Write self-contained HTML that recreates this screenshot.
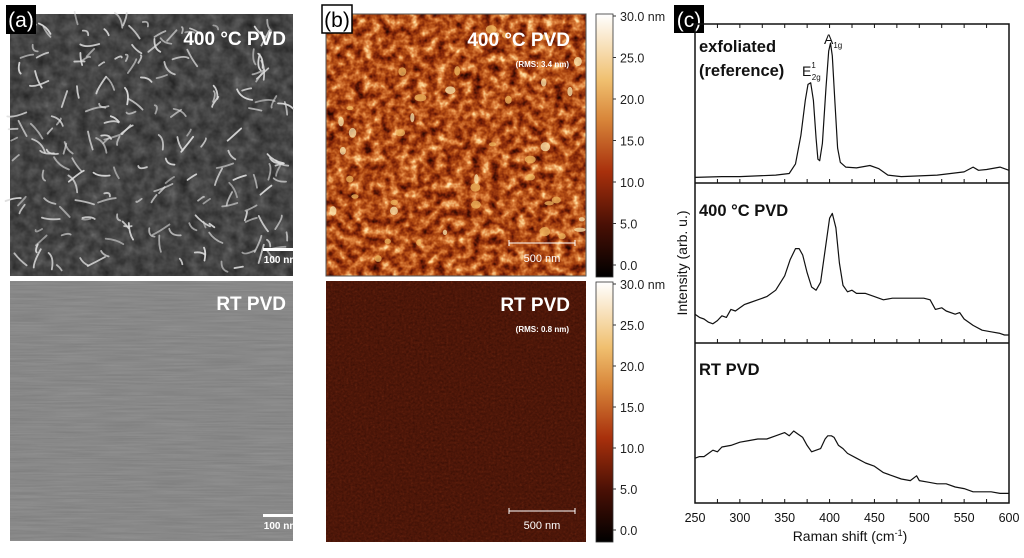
<!DOCTYPE html>
<html><head><meta charset="utf-8">
<style>
html,body{margin:0;padding:0;background:#fff;}
svg{display:block;font-family:"Liberation Sans",sans-serif;}
filter{color-interpolation-filters:sRGB;}
</style></head>
<body>
<svg id="fig" width="1024" height="558" viewBox="0 0 1024 558" xmlns="http://www.w3.org/2000/svg">
<defs>
  <filter id="semTex" x="0" y="0" width="100%" height="100%" color-interpolation-filters="sRGB">
    <feTurbulence type="fractalNoise" baseFrequency="0.09" numOctaves="3" seed="3"/>
    <feColorMatrix type="matrix" values="1 0 0 0 0 1 0 0 0 0 1 0 0 0 0 0 0 0 0 1"/>
    <feComponentTransfer>
      <feFuncR type="table" tableValues="0.12 0.2 0.27 0.34 0.45"/>
      <feFuncG type="table" tableValues="0.12 0.2 0.27 0.34 0.45"/>
      <feFuncB type="table" tableValues="0.12 0.2 0.27 0.34 0.45"/>
    </feComponentTransfer>
  </filter>
  <filter id="semFlat" x="0" y="0" width="100%" height="100%" color-interpolation-filters="sRGB">
    <feTurbulence type="fractalNoise" baseFrequency="0.02 0.6" numOctaves="2" seed="8"/>
    <feColorMatrix type="matrix" values="1 0 0 0 0 1 0 0 0 0 1 0 0 0 0 0 0 0 0 1"/>
    <feComponentTransfer>
      <feFuncR type="table" tableValues="0.49 0.52 0.55 0.58"/>
      <feFuncG type="table" tableValues="0.49 0.52 0.55 0.58"/>
      <feFuncB type="table" tableValues="0.49 0.52 0.55 0.58"/>
    </feComponentTransfer>
  </filter>
  <filter id="afmTop" x="0" y="0" width="100%" height="100%" color-interpolation-filters="sRGB">
    <feTurbulence type="fractalNoise" baseFrequency="0.11" numOctaves="3" seed="5"/>
    <feColorMatrix type="matrix" values="1 0 0 0 0 1 0 0 0 0 1 0 0 0 0 0 0 0 0 1"/>
    <feComponentTransfer>
      <feFuncR type="table" tableValues="0 0.22 0.5 0.7 0.88 1 1"/>
      <feFuncG type="table" tableValues="0 0.04 0.14 0.3 0.52 0.85 1"/>
      <feFuncB type="table" tableValues="0 0.01 0.03 0.08 0.25 0.6 1"/>
    </feComponentTransfer>
  </filter>
  <filter id="afmBot" x="0" y="0" width="100%" height="100%" color-interpolation-filters="sRGB">
    <feTurbulence type="fractalNoise" baseFrequency="0.45" numOctaves="2" seed="11"/>
    <feColorMatrix type="matrix" values="1 0 0 0 0 1 0 0 0 0 1 0 0 0 0 0 0 0 0 1"/>
    <feComponentTransfer>
      <feFuncR type="table" tableValues="0.2 0.28 0.33 0.42"/>
      <feFuncG type="table" tableValues="0.05 0.08 0.1 0.15"/>
      <feFuncB type="table" tableValues="0.02 0.03 0.04 0.06"/>
    </feComponentTransfer>
  </filter>
  <linearGradient id="cbar" x1="0" y1="1" x2="0" y2="0">
    <stop offset="0" stop-color="#000"/>
    <stop offset="0.2" stop-color="#4a1005"/>
    <stop offset="0.4" stop-color="#a8300c"/>
    <stop offset="0.6" stop-color="#d8863a"/>
    <stop offset="0.75" stop-color="#f0c070"/>
    <stop offset="1" stop-color="#ffffff"/>
  </linearGradient>
</defs>

<!-- Panel A -->
<g>
  <rect x="10" y="14" width="283" height="262" filter="url(#semTex)"/>
  <g id="streaks"></g>
  <rect x="10" y="281" width="283" height="260" filter="url(#semFlat)"/>
  <rect x="6" y="5" width="30" height="29" fill="#000"/>
  <text x="21" y="27" fill="#fff" font-size="21" text-anchor="middle">(a)</text>
  <text x="286" y="45" fill="#fff" font-size="19" font-weight="bold" text-anchor="end">400 °C PVD</text>
  <text x="286" y="310" fill="#fff" font-size="19" font-weight="bold" text-anchor="end">RT PVD</text>
  <rect x="263" y="248" width="35" height="3" fill="#fff"/>
  <text x="281" y="263" fill="#fff" font-size="10" font-weight="bold" text-anchor="middle">100 nm</text>
  <rect x="263" y="514" width="35" height="3" fill="#fff"/>
  <text x="281" y="529" fill="#fff" font-size="10" font-weight="bold" text-anchor="middle">100 nm</text>
</g>

<!-- Panel B -->
<g>
  <rect x="326" y="14" width="260" height="262" filter="url(#afmTop)"/>
  <g id="grains"></g>
  <rect x="326" y="14" width="260" height="262" fill="none" stroke="#555" stroke-width="1"/>
  <rect x="326" y="281" width="260" height="261" filter="url(#afmBot)"/>
  <rect x="322" y="5" width="30" height="28" fill="#fff" stroke="#000" stroke-width="1.5"/>
  <text x="337" y="27" fill="#000" font-size="21" text-anchor="middle">(b)</text>
  <text x="570" y="46" fill="#fff" font-size="19" font-weight="bold" text-anchor="end">400 °C PVD</text>
  <text x="569" y="67" fill="#fff" font-size="8" font-weight="bold" text-anchor="end">(RMS: 3.4 nm)</text>
  <text x="570" y="311" fill="#fff" font-size="19" font-weight="bold" text-anchor="end">RT PVD</text>
  <text x="569" y="332" fill="#fff" font-size="8" font-weight="bold" text-anchor="end">(RMS: 0.8 nm)</text>
  <g stroke="#fff" stroke-width="1">
    <line x1="509" y1="243" x2="575" y2="243"/><line x1="509" y1="240" x2="509" y2="246"/><line x1="575" y1="240" x2="575" y2="246"/>
  </g>
  <text x="542" y="262" fill="#fff" font-size="11" text-anchor="middle">500 nm</text>
  <g stroke="#fff" stroke-width="1">
    <line x1="509" y1="511" x2="575" y2="511"/><line x1="509" y1="508" x2="509" y2="514"/><line x1="575" y1="508" x2="575" y2="514"/>
  </g>
  <text x="542" y="529" fill="#fff" font-size="11" text-anchor="middle">500 nm</text>
  <g id="cbars"></g>
</g>

<!-- Panel C -->
<g id="panelC">
  <rect x="674" y="5" width="30" height="28" fill="#000"/>
  <text x="689" y="27" fill="#fff" font-size="21" text-anchor="middle">(c)</text>
</g>
</svg>

<script>
// ---------- Raman data ----------
const shiftTicks = [250, 300, 350, 400, 450, 500, 550, 600];
const exfolX = [250,280,300,340,355,362,368,373,376,379,382,385,387,389,392,396,399,401,403,406,409,412,418,430,445,455,465,480,520,550,560,566,575,590,600];
const exfolY = [3.5,4,4,5,6,12,30,52,62,63,52,28,15,14,25,60,83,88,80,50,22,13,10,9.5,11,9,5,4,5,7,10,8,8.5,10,8];
const pvd400X = [250,255,260,265,270,275,280,285,290,295,300,305,310,320,330,340,350,356,362,366,370,375,380,385,390,395,400,403,407,411,415,420,425,430,440,450,460,470,480,490,505,512,518,525,530,540,545,550,560,570,580,590,595,600];
const pvd400Y = [18,16,15,13,12,14,17,16,21,20,22,24,25,27,29,33,42,52,59,59,55,44,35,33,38,58,78,81,72,50,36,32,33,31,31,29,27,28,28,28,28,27,21,22,20,18,19,15,11,8,7,6,5,5];
const rtX = [250,255,260,265,270,275,280,290,300,310,320,330,340,350,355,360,365,370,375,380,385,390,395,398,402,405,410,415,420,430,440,450,460,470,480,490,497,500,510,520,530,540,550,560,570,580,590,600];
const rtY = [28,29,29,31,33,32,35,36,38,39,40,40,42,44,42,45,43,41,36,32,33,34,40,42,42,41,36,34,31,28,25,23,19,17,15,14,17,14,13,12,12,10,9,7,7,7,6,6];

const X0 = 250, X1 = 600, PX0 = 695, PX1 = 1009;
const panels = [{top:24, bot:183}, {top:183, bot:343}, {top:343, bot:503}];
function sx(v){ return PX0 + (v - X0) / (X1 - X0) * (PX1 - PX0); }
function sy(p, v){ return p.bot - v / 100 * (p.bot - p.top); }

const NS = "http://www.w3.org/2000/svg";
function mk(tag, attrs, parent){ const e = document.createElementNS(NS, tag); for (const k in attrs) e.setAttribute(k, attrs[k]); parent.appendChild(e); return e; }

const pc = document.getElementById('panelC');
const series = [[exfolX, exfolY, 'spectrum-exfoliated'], [pvd400X, pvd400Y, 'spectrum-400c-pvd'], [rtX, rtY, 'spectrum-rt-pvd']];
series.forEach((s, i) => {
  const p = panels[i];
  const pts = s[0].map((x, j) => sx(x).toFixed(1) + ',' + sy(p, s[1][j]).toFixed(1)).join(' ');
  const pl = mk('polyline', {points: pts, fill: 'none', stroke: '#111', 'stroke-width': 1.2, 'stroke-linejoin': 'round'}, pc);
  
  
});
const frame = mk('rect', {x: PX0, y: 24, width: PX1 - PX0, height: 479, fill: 'none', stroke: '#111', 'stroke-width': 1.5}, pc);


[183, 343].forEach(y => {
  const d = mk('line', {x1: PX0, x2: PX1, y1: y, y2: y, stroke: '#111', 'stroke-width': 1.5}, pc);
  
  
});
for (let v = 250; v <= 600; v += 25) {
  const x = sx(v);
  mk('line', {x1: x, x2: x, y1: 24, y2: 28, stroke: '#111', 'stroke-width': 1}, pc);
  panels.forEach(p => mk('line', {x1: x, x2: x, y1: p.bot, y2: p.bot - 4, stroke: '#111', 'stroke-width': 1}, pc));
}
shiftTicks.forEach(v => {
  const t = mk('text', {x: sx(v), y: 522, 'font-size': 12.5, 'text-anchor': 'middle', fill: '#111'}, pc);
  t.textContent = v;
  
  
});
const xt = mk('text', {x: 850, y: 541, 'font-size': 14, 'text-anchor': 'middle', fill: '#111'}, pc);
xt.innerHTML = 'Raman shift (cm<tspan dy="-5" font-size="9">-1</tspan><tspan dy="5">)</tspan>';


const yt = mk('text', {x: 0, y: 0, 'font-size': 14, 'text-anchor': 'middle', fill: '#111', transform: 'translate(687,263) rotate(-90)'}, pc);
yt.textContent = 'Intensity (arb. u.)';


const labs = [['exfoliated', 699, 52, 'label-exfoliated'], ['(reference)', 699, 76, 'label-reference'], ['400 °C PVD', 699, 216, 'label-400c-pvd'], ['RT PVD', 699, 375, 'label-rt-pvd']];
labs.forEach(l => {
  const t = mk('text', {x: l[1], y: l[2], 'font-size': 16.5, 'font-weight': 'bold', fill: '#111'}, pc);
  t.textContent = l[0];
  
  
});
const e2g = mk('text', {x: 802, y: 76, 'font-size': 14, fill: '#111'}, pc);
e2g.innerHTML = 'E<tspan dy="-8" font-size="8">1</tspan><tspan dx="-4" dy="12" font-size="8">2g</tspan>';


const a1g = mk('text', {x: 824, y: 44, 'font-size': 14, fill: '#111'}, pc);
a1g.innerHTML = 'A<tspan dy="4" font-size="8">1g</tspan>';



// ---------- colorbars ----------
const cbTicks = ['30.0 nm', '25.0', '20.0', '15.0', '10.0', '5.0', '0.0'];
const cbg = document.getElementById('cbars');
[[14, 263], [282, 260]].forEach((c, k) => {
  const r = mk('rect', {x: 596, y: c[0], width: 17, height: c[1], fill: 'url(#cbar)', stroke: '#333', 'stroke-width': 0.8}, cbg);
  
  
  cbTicks.forEach((lab, i) => {
    const y = c[0] + 6 + i * (c[1] - 14) / 6;
    mk('line', {x1: 613, x2: 616, y1: y - 4, y2: y - 4, stroke: '#333'}, cbg);
    const t = mk('text', {x: 620, y: y + 1, 'font-size': 12.5, fill: '#222'}, cbg);
    t.textContent = lab;
    
    
  });
});

// ---------- textures (decorative) ----------
let seed = 12345;
function rnd(){ seed = (seed * 16807) % 2147483647; return seed / 2147483647; }
const st = document.getElementById('streaks');
for (let i = 0; i < 190; i++) {
  const x = 12 + rnd() * 278, y = 16 + rnd() * 256;
  const a = rnd() * Math.PI, L = 6 + rnd() * 14, b = (rnd() - 0.5) * 8;
  const dx = Math.cos(a) * L / 2, dy = Math.sin(a) * L / 2;
  mk('path', {d: `M${x - dx},${y - dy} Q${x + b},${y - b} ${x + dx},${y + dy}`, fill: 'none', stroke: '#dcdcdc', 'stroke-width': 1.8, 'stroke-linecap': 'round', opacity: 0.55 + rnd() * 0.4}, st);
}
const gr = document.getElementById('grains');
for (let i = 0; i < 40; i++) {
  const x = 330 + rnd() * 252, y = 18 + rnd() * 254;
  mk('ellipse', {cx: x, cy: y, rx: 2 + rnd() * 4, ry: 2 + rnd() * 3, fill: rnd() > 0.6 ? '#fce8b0' : '#f0b860', opacity: 0.75}, gr);
}
</script>
</body></html>
